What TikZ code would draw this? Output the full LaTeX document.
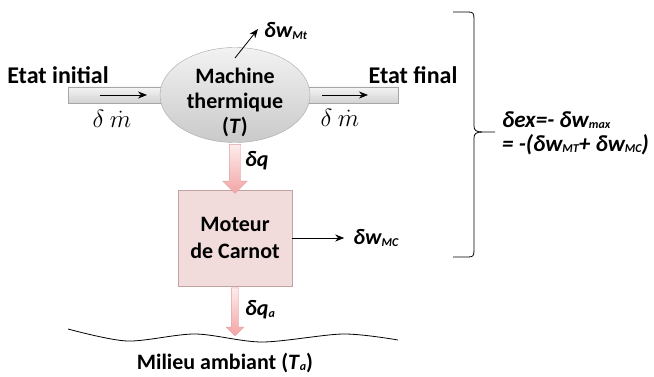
\documentclass[tikz,border=0pt]{standalone}
\usepackage{fontspec}
\setmainfont{Carlito}
\usepackage{tikz}
\usetikzlibrary{arrows.meta, positioning, shapes.geometric, shapes.arrows}

\definecolor{rosefill}{HTML}{F2DCDB}
\definecolor{rosebord}{HTML}{C4A2A2}
\definecolor{heattop}{HTML}{FDECEC}
\definecolor{heatbot}{HTML}{F3A5A5}
\definecolor{heatbord}{HTML}{E29C9C}

\newcommand{\idx}[1]{\raisebox{-1.5pt}{\fontsize{12}{12}\selectfont #1}}

\begin{document}
\begin{tikzpicture}[x=1pt, y=-1pt, font=\bfseries\fontsize{23}{26}\selectfont, >={Stealth[length=9pt, width=7pt]}]
    \tikzstyle{pipe} = [rectangle, draw=gray!70, top color=gray!8, bottom color=gray!35, minimum height=16pt, inner sep=0pt]
    \tikzstyle{machine} = [ellipse, draw=gray!70, top color=gray!10, bottom color=gray!42, minimum width=150pt, minimum height=95pt, inner sep=0pt]
    \tikzstyle{carnotbox} = [rectangle, draw=rosebord, fill=rosefill, minimum width=114pt, minimum height=96pt, align=center, font=\bfseries\fontsize{22}{27}\selectfont]
    \tikzstyle{heat} = [single arrow, draw=heatbord, top color=heattop, bottom color=heatbot, shape border rotate=270, single arrow head extend=6.5pt, single arrow tip angle=90, inner sep=5.5pt, minimum width=0pt]
    \tikzstyle{arr} = [->, thick]
    \tikzstyle{lbl} = [font=\bfseries\itshape\fontsize{22}{23}\selectfont, inner sep=0pt]
    \tikzstyle{flow} = [inner sep=0pt, font=\fontsize{24}{24}\selectfont]
    \useasboundingbox (0,0) rectangle (654,377);

    % pipes and machine
    \node[pipe, minimum width=106pt] (pipeL) at (121,95) {};
    \node[pipe, minimum width=102pt] (pipeR) at (347,95) {};
    \node[machine] (machine) at (235,95) {};
    \node[align=center, font=\bfseries\fontsize{22}{25}\selectfont] (machinetxt) at ([yshift=-7pt]machine.center) {Machine\\thermique\\(\textit{T})};

    \node[font=\bfseries\fontsize{24}{26}\selectfont] (init) at (58,75) {Etat initial};
    \node[font=\bfseries\fontsize{24}{26}\selectfont] (final) at (413,75) {Etat final};
    \coordinate (inA) at (100,95);
    \coordinate (inB) at (147,95);
    \coordinate (outA) at (322,95);
    \coordinate (outB) at (368,95);
    \draw[arr] (inA) -- (inB);
    \draw[arr] (outA) -- (outB);
    \node[flow] (dmL) at (112,119) {$\delta\mkern4mu\dot m$};
    \node[flow] (dmR) at (340,118) {$\delta\mkern4mu\dot m$};

    % work of the machine
    \coordinate (mtfoot) at (235,58);
    \node[lbl, anchor=west] (wMt) at (264,31) {δw\idx{Mt}};
    \draw[arr] (mtfoot) -- ([xshift=-6pt, yshift=2pt]wMt.west);

    % Carnot engine
    \node[carnotbox] (carnot) at (235,238) {Moteur\\de Carnot};
    \node[heat, minimum height=49pt] (dq) at (235,166) {};
    \node[lbl, anchor=west] (dqlbl) at (245,161) {δq};
    \node[lbl, right=61pt of carnot] (wMC) {δw\idx{MC}};
    \draw[arr, shorten >=9pt] (carnot) -- (wMC);
    \node[heat, minimum height=48pt, inner sep=3.5pt, single arrow head extend=5pt] (dqa) at (235,310) {};
    \node[lbl, anchor=west] (dqalbl) at (245,310) {δq\idx{a}};

    % surroundings
    \draw[thick] plot[smooth] coordinates {(68,329) (127,341) (195,334) (262,342) (343,334) (398,340)};
    \node[font=\bfseries\fontsize{22}{26}\selectfont] (milieu) at (225,363) {Milieu ambiant (\textit{T}\idx{\textit{a}})};

    % exergy
    \coordinate (btop) at (453,12);
    \coordinate (btip) at (495,132);
    \coordinate (bbot) at (453,257);
    \draw[thick] (btop) -- ++(15,0) .. controls +(5,0) and +(0,-6) .. ++(6,7) -- (474,126)
        .. controls +(0,4) and +(-6,0) .. (482,132) -- (btip);
    \draw[thick] (482,132) .. controls +(-6,0) and +(0,-4) .. (474,138) -- (474,250)
        .. controls +(0,6) and +(5,0) .. ++(-6,7) -- (bbot);
    \node[lbl, anchor=west, align=left, font=\bfseries\itshape\fontsize{23}{24}\selectfont] (exergy) at (502,133) {δex=- δw\idx{max}\\= -(δw\idx{MT}+ δw\idx{MC})};
\end{tikzpicture}
\end{document}
